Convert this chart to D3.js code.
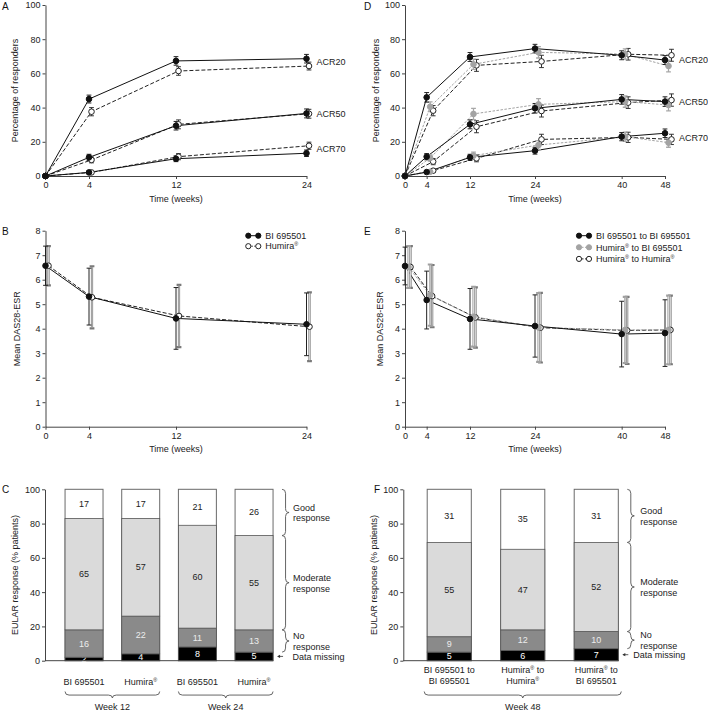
<!DOCTYPE html>
<html><head><meta charset="utf-8">
<script src="https://cdn.jsdelivr.net/npm/d3@7"></script>
<style>
body{margin:0;background:#fff}
svg{font-family:Arial,"Liberation Sans",Helvetica,sans-serif;display:block}
</style>
</head><body>
<svg id="c" width="708" height="710"></svg>
<script>
// ---------------- DATA ----------------
const weeksA = [0, 4, 12, 24];
const weeksD = [0, 4, 12, 24, 40, 48];

// Panel A: ACR responders (%), mean and error
const acr20A_BI = [0, 45.0, 67.3, 68.6];
const acr20A_BI_err = [0, 2.3, 2.5, 2.5];
const acr20A_Hum = [0, 37.6, 61.4, 64.3];
const acr20A_Hum_err = [0, 2.4, 2.5, 2.3];
const acr50A_BI = [0, 10.9, 29.4, 36.6];
const acr50A_BI_err = [0, 1.8, 2.5, 2.6];
const acr50A_Hum = [0, 9.4, 30.2, 36.4];
const acr50A_Hum_err = [0, 1.7, 2.6, 2.6];
const acr70A_BI = [0, 2.1, 10.1, 13.3];
const acr70A_BI_err = [0, 0.8, 1.7, 1.9];
const acr70A_Hum = [0, 2.1, 11.3, 17.7];
const acr70A_Hum_err = [0, 0.8, 1.8, 2.1];

// Panel D
const acr20D_BIBI = [0, 46.0, 69.6, 74.5, 70.6, 67.8];
const acr20D_BIBI_err = [0, 2.8, 2.6, 2.5, 2.6, 2.6];
const acr20D_HumBI = [0, 40.5, 65.3, 72.3, 71.3, 64.3];
const acr20D_HumBI_err = [0, 2.8, 3.0, 3.3, 3.0, 3.4];
const acr20D_HumHum = [0, 38.2, 64.7, 67.0, 71.2, 70.6];
const acr20D_HumHum_err = [0, 3.0, 3.5, 3.6, 3.4, 3.5];
const acr50D_BIBI = [0, 11.3, 30.2, 39.6, 44.8, 43.5];
const acr50D_BIBI_err = [0, 1.8, 2.6, 2.8, 2.8, 2.8];
const acr50D_HumBI = [0, 10.5, 36.3, 41.9, 43.5, 41.5];
const acr50D_HumBI_err = [0, 1.8, 3.3, 3.4, 3.3, 3.4];
const acr50D_HumHum = [0, 8.4, 28.8, 38.0, 42.9, 44.4];
const acr50D_HumHum_err = [0, 1.8, 3.5, 3.5, 3.4, 3.6];
const acr70D_BIBI = [0, 2.3, 10.9, 14.8, 23.0, 25.0];
const acr70D_BIBI_err = [0, 0.9, 1.8, 2.0, 2.4, 2.5];
const acr70D_HumBI = [0, 2.5, 11.9, 18.1, 23.0, 19.5];
const acr70D_HumBI_err = [0, 0.9, 2.1, 2.6, 2.7, 2.7];
const acr70D_HumHum = [0, 3.1, 10.3, 21.4, 22.6, 21.4];
const acr70D_HumHum_err = [0, 1.0, 2.0, 3.0, 3.0, 3.0];

// Panel B: mean DAS28-ESR with SD
const dasB_BI = [6.57, 5.31, 4.42, 4.18];
const dasB_BI_sd = [0.80, 1.16, 1.26, 1.28];
const dasB_Hum = [6.57, 5.28, 4.52, 4.08];
const dasB_Hum_sd = [0.80, 1.27, 1.27, 1.40];

// Panel E
const dasE_BIBI = [6.56, 5.17, 4.40, 4.11, 3.78, 3.82];
const dasE_BIBI_sd = [0.77, 1.18, 1.24, 1.27, 1.34, 1.36];
const dasE_HumBI = [6.52, 5.37, 4.49, 4.05, 3.95, 3.95];
const dasE_HumBI_sd = [0.85, 1.25, 1.22, 1.40, 1.35, 1.40];
const dasE_HumHum = [6.52, 5.33, 4.46, 4.04, 3.93, 3.95];
const dasE_HumHum_sd = [0.85, 1.27, 1.23, 1.42, 1.37, 1.40];

// Panel C: EULAR response (% patients)
const eularC_cats = [["BI 695501"], ["Humira®"], ["BI 695501"], ["Humira®"]];
const eularC_missing = [2, 4, 8, 5];
const eularC_no = [16, 22, 11, 13];
const eularC_moderate = [65, 57, 60, 55];
const eularC_good = [17, 17, 21, 26];
const eularC_groups = [{label: "Week 12", bars: [0, 1]}, {label: "Week 24", bars: [2, 3]}];

// Panel F
const eularF_cats = [["BI 695501 to", "BI 695501"], ["Humira® to", "Humira®"], ["Humira® to", "BI 695501"]];
const eularF_missing = [5, 6, 7];
const eularF_no = [9, 12, 10];
const eularF_moderate = [55, 47, 52];
const eularF_good = [31, 35, 31];
const eularF_groups = [{label: "Week 48", bars: [0, 1, 2]}];

const pctTicks = [0, 20, 40, 60, 80, 100];
const dasTicks = [0, 1, 2, 3, 4, 5, 6, 7, 8];
const responseLabels = [["Good", "response"], ["Moderate", "response"], ["No", "response"]];

// ---------------- DRAWING ----------------
const svg = d3.select('#c');
const FS = 9;
const AXC = '#444';

const STY = {
  black: {line: '#111', dash: null, fill: '#111', mstroke: '#111', eb: '#222', ebw: 1},
  grey: {line: '#a3a3a3', dash: '2.5,1.5', fill: '#a3a3a3', mstroke: '#a3a3a3', eb: '#a8a8a8', ebw: 1.3},
  open: {line: '#222', dash: '4,2', fill: '#fff', mstroke: '#222', eb: '#333', ebw: 1}
};

function rich(textSel, str) {
  const parts = str.split('®');
  let shifted = false;
  parts.forEach((p, i) => {
    if (p) {
      const t = textSel.append('tspan').text(p);
      if (shifted) { t.attr('dy', 3); shifted = false; }
    }
    if (i < parts.length - 1) {
      textSel.append('tspan').attr('font-size', FS * 0.6).attr('dy', -3).text('®');
      shifted = true;
    }
  });
}

function styleAxis(a) {
  a.select('.domain').attr('stroke', AXC);
  a.selectAll('.tick line').attr('stroke', AXC);
  a.selectAll('.tick text').attr('fill', '#222').attr('font-size', FS).attr('font-family', null);
  a.attr('font-family', null);
}

function letter(x, y, t) {
  svg.append('text').attr('x', x).attr('y', y).attr('font-size', 10).attr('fill', '#111').text(t);
}

function linePanel(cfg) {
  const x = d3.scaleLinear().domain([0, d3.max(cfg.weeks)]).range(cfg.xr);
  const y = d3.scaleLinear().domain(cfg.yd).range(cfg.yr);
  const g = svg.append('g');
  const ya = g.append('g').attr('transform', `translate(${cfg.xr[0]},0)`)
    .call(d3.axisLeft(y).tickValues(cfg.yTicks).tickSize(3).tickPadding(2).tickSizeOuter(0));
  const xa = g.append('g').attr('transform', `translate(0,${cfg.yr[0]})`)
    .call(d3.axisBottom(x).tickValues(cfg.weeks).tickSize(3).tickPadding(3).tickSizeOuter(0));
  styleAxis(ya); styleAxis(xa);
  g.append('text').attr('x', (cfg.xr[0] + cfg.xr[1]) / 2).attr('y', cfg.yr[0] + 25.5)
    .attr('text-anchor', 'middle').attr('font-size', FS).attr('fill', '#222').text('Time (weeks)');
  g.append('text').attr('transform', `translate(${cfg.yTitleX},${(cfg.yr[0] + cfg.yr[1]) / 2}) rotate(-90)`)
    .attr('text-anchor', 'middle').attr('font-size', FS).attr('fill', '#222').text(cfg.yTitle);

  const px = (s, i) => x(cfg.weeks[i]) + ((cfg.weeks[i] === 0 && cfg.zeroNoOffset) ? 0 : s.dx);
  const order = cfg.series.slice().reverse();
  order.forEach(s => {
    const st = STY[s.style];
    g.append('path').datum(s.v)
      .attr('d', d3.line().x((d, i) => px(s, i)).y(d => y(d)))
      .attr('fill', 'none').attr('stroke', st.line).attr('stroke-width', 1)
      .attr('stroke-dasharray', st.dash);
  });
  order.forEach(s => {
    const st = STY[s.style];
    s.v.forEach((v, i) => {
      const e = s.e[i];
      if (!e) return;
      const cx = px(s, i), y1 = y(v + e), y2 = y(v - e);
      const path = `M${cx},${y1}V${y2}M${cx - 2.4},${y1}H${cx + 2.4}M${cx - 2.4},${y2}H${cx + 2.4}`;
      if (cfg.hollowOpen && s.style !== 'black') {
        g.append('path').attr('d', path).attr('stroke', s.style === 'open' ? '#7a7a7a' : '#a0a0a0').attr('stroke-width', 2.2).attr('fill', 'none');
        g.append('path').attr('d', `M${cx},${y1 + 0.8}V${y2 - 0.8}`).attr('stroke', '#e6e6e6').attr('stroke-width', 0.8);
      } else {
        g.append('path').attr('d', path).attr('stroke', st.eb).attr('stroke-width', st.ebw).attr('fill', 'none');
      }
    });
  });
  order.forEach(s => {
    const st = STY[s.style];
    g.selectAll(null).data(s.v).join('circle')
      .attr('cx', (d, i) => px(s, i)).attr('cy', d => y(d)).attr('r', 2.8)
      .attr('fill', st.fill).attr('stroke', st.mstroke).attr('stroke-width', 1);
  });
  return {x, y, g};
}

function acrLabels(p, groups, weeks, dx) {
  const last = weeks.length - 1;
  groups.forEach(gr => {
    const m = d3.mean(gr.series, s => s[last]);
    p.g.append('text').attr('x', p.x(weeks[last]) + dx).attr('y', p.y(m) + 3)
      .attr('font-size', FS).attr('fill', '#222').text(gr.label);
  });
}

function legend(items, mx, ty, dy) {
  items.forEach((it, k) => {
    const st = STY[it.style];
    const yy = ty + k * dy;
    svg.append('line').attr('x1', mx).attr('x2', mx + 10).attr('y1', yy).attr('y2', yy)
      .attr('stroke', st.line).attr('stroke-dasharray', st.dash ? '1.5,1.5' : null);
    [mx, mx + 10].forEach(cx => svg.append('circle').attr('cx', cx).attr('cy', yy).attr('r', 2.6)
      .attr('fill', st.fill).attr('stroke', st.mstroke));
    rich(svg.append('text').attr('x', mx + 17).attr('y', yy + 3.2).attr('font-size', FS).attr('fill', '#222'), it.label);
  });
}

function hBrace(g, xa, xb, yt, h) {
  const mid = (xa + xb) / 2, ym = yt + h * 0.55, q = 4;
  g.append('path').attr('d',
    `M${xa},${yt}Q${xa},${ym} ${xa + q},${ym}L${mid - q},${ym}Q${mid},${ym} ${mid},${yt + h}` +
    `Q${mid},${ym} ${mid + q},${ym}L${xb - q},${ym}Q${xb},${ym} ${xb},${yt}`)
    .attr('fill', 'none').attr('stroke', '#555').attr('stroke-width', 0.9);
}
function vBrace(g, bx, ya, yb, w) {
  const mid = (ya + yb) / 2, xm = bx + w * 0.5, q = Math.min(4, (yb - ya) / 4);
  g.append('path').attr('d',
    `M${bx},${ya}Q${xm},${ya} ${xm},${ya + q}L${xm},${mid - q}Q${xm},${mid} ${bx + w},${mid}` +
    `Q${xm},${mid} ${xm},${mid + q}L${xm},${yb - q}Q${xm},${yb} ${bx},${yb}`)
    .attr('fill', 'none').attr('stroke', '#555').attr('stroke-width', 0.9);
}

function barPanel(cfg) {
  const n = cfg.cats.length;
  const y = d3.scaleLinear().domain([0, 100]).range([660.7, 489.3]);
  const xb = d3.scaleBand().domain(d3.range(n)).range(cfg.range).paddingInner(cfg.pad).paddingOuter(cfg.pad / 2);
  const g = svg.append('g');
  const ya = g.append('g').attr('transform', `translate(${cfg.axisX},0)`)
    .call(d3.axisLeft(y).tickValues(pctTicks).tickSize(3).tickPadding(2).tickSizeOuter(0));
  styleAxis(ya);
  g.append('text').attr('transform', `translate(${cfg.yTitleX},${(y(0) + y(100)) / 2}) rotate(-90)`)
    .attr('text-anchor', 'middle').attr('font-size', FS).attr('fill', '#222').text('EULAR response (% patients)');

  const segs = [
    {vals: cfg.missing, fill: '#000', tc: '#fff'},
    {vals: cfg.no, fill: '#8a8a8a', tc: '#ececec'},
    {vals: cfg.moderate, fill: '#dadada', tc: '#222'}
  ];
  const lastRight = xb(n - 1) + xb.bandwidth();
  const cums = [];
  for (let i = 0; i < n; i++) {
    const x0 = xb(i), bw = xb.bandwidth();
    g.append('rect').attr('x', x0).attr('y', y(100)).attr('width', bw).attr('height', y(0) - y(100))
      .attr('fill', '#fff').attr('stroke', '#6a6a6a').attr('stroke-width', 1);
    let c = 0;
    const cum = [];
    segs.forEach(sg => {
      const v = sg.vals[i];
      g.append('rect').attr('x', x0).attr('y', y(c + v)).attr('width', bw).attr('height', y(c) - y(c + v))
        .attr('fill', sg.fill).attr('stroke', '#555').attr('stroke-width', 0.8);
      g.append('text').attr('x', x0 + bw / 2).attr('y', y(c + v / 2) + 3).attr('text-anchor', 'middle')
        .attr('font-size', FS).attr('fill', sg.tc).text(v);
      c += v; cum.push(c);
    });
    g.append('text').attr('x', x0 + bw / 2).attr('y', y((c + 100) / 2) + 3).attr('text-anchor', 'middle')
      .attr('font-size', FS).attr('fill', '#222').text(cfg.good[i]);
    cums.push(cum);
    const t = g.append('text').attr('text-anchor', 'middle').attr('font-size', FS).attr('fill', '#222');
    cfg.cats[i].forEach((line, k) => {
      const ts = t.append('tspan').attr('x', x0 + bw / 2).attr('y', cfg.catY + k * 10.8);
      rich(ts, line);
    });
  }
  g.append('line').attr('x1', cfg.axisX).attr('x2', lastRight).attr('y1', y(0)).attr('y2', y(0)).attr('stroke', AXC);
  cfg.groups.forEach(gr => {
    const xa = xb(gr.bars[0]) - cfg.braceExt, xe = xb(gr.bars[gr.bars.length - 1]) + xb.bandwidth() + cfg.braceExt;
    hBrace(g, xa, xe, 691.5, 6.5);
    g.append('text').attr('x', (xa + xe) / 2).attr('y', 709.5).attr('text-anchor', 'middle')
      .attr('font-size', FS).attr('fill', '#222').text(gr.label);
  });
  const lc = cums[n - 1];
  const spans = [[100, lc[2]], [lc[2], lc[1]], [lc[1], lc[0]]];
  const bx = lastRight + cfg.braceDx;
  spans.forEach((sp, k) => {
    vBrace(g, bx, y(sp[0]), y(sp[1]), 7);
    const mid = (y(sp[0]) + y(sp[1])) / 2;
    const t = g.append('text').attr('font-size', FS).attr('fill', '#222');
    responseLabels[k].forEach((line, j) => t.append('tspan').attr('x', bx + cfg.textDx).attr('y', mid - 1.8 + j * 10.7).text(line));
  });
  const ym = y(lc[0] / 2);
  g.append('line').attr('x1', bx - 4).attr('x2', bx + 1).attr('y1', ym).attr('y2', ym).attr('stroke', '#333').attr('stroke-width', 0.8);
  g.append('path').attr('d', `M${bx - 5},${ym}L${bx - 2},${ym - 1.6}L${bx - 2},${ym + 1.6}Z`).attr('fill', '#333');
  g.append('text').attr('x', bx + cfg.dmDx).attr('y', ym + 3.2).attr('font-size', FS).attr('fill', '#222').text('Data missing');
}

// ----- Panel A -----
const pA = linePanel({
  weeks: weeksA, xr: [45.5, 306.5], yd: [0, 100], yr: [176, 5], yTicks: pctTicks,
  yTitle: 'Percentage of responders', yTitleX: 18, zeroNoOffset: true,
  series: [
    {v: acr20A_BI, e: acr20A_BI_err, style: 'black', dx: 0},
    {v: acr20A_Hum, e: acr20A_Hum_err, style: 'open', dx: 2.5},
    {v: acr50A_BI, e: acr50A_BI_err, style: 'black', dx: 0},
    {v: acr50A_Hum, e: acr50A_Hum_err, style: 'open', dx: 2.5},
    {v: acr70A_BI, e: acr70A_BI_err, style: 'black', dx: 0},
    {v: acr70A_Hum, e: acr70A_Hum_err, style: 'open', dx: 2.5}
  ]
});
acrLabels(pA, [
  {label: 'ACR20', series: [acr20A_BI, acr20A_Hum]},
  {label: 'ACR50', series: [acr50A_BI, acr50A_Hum]},
  {label: 'ACR70', series: [acr70A_BI, acr70A_Hum]}
], weeksA, 10);
letter(2, 9.5, 'A');

// ----- Panel D -----
const pD = linePanel({
  weeks: weeksD, xr: [405, 665], yd: [0, 100], yr: [176, 5], yTicks: pctTicks,
  yTitle: 'Percentage of responders', yTitleX: 378.5, zeroNoOffset: true,
  series: [
    {v: acr20D_BIBI, e: acr20D_BIBI_err, style: 'black', dx: 0},
    {v: acr20D_HumBI, e: acr20D_HumBI_err, style: 'grey', dx: 3.5},
    {v: acr20D_HumHum, e: acr20D_HumHum_err, style: 'open', dx: 6.5},
    {v: acr50D_BIBI, e: acr50D_BIBI_err, style: 'black', dx: 0},
    {v: acr50D_HumBI, e: acr50D_HumBI_err, style: 'grey', dx: 3.5},
    {v: acr50D_HumHum, e: acr50D_HumHum_err, style: 'open', dx: 6.5},
    {v: acr70D_BIBI, e: acr70D_BIBI_err, style: 'black', dx: 0},
    {v: acr70D_HumBI, e: acr70D_HumBI_err, style: 'grey', dx: 3.5},
    {v: acr70D_HumHum, e: acr70D_HumHum_err, style: 'open', dx: 6.5}
  ]
});
acrLabels(pD, [
  {label: 'ACR20', series: [acr20D_BIBI, acr20D_HumBI, acr20D_HumHum]},
  {label: 'ACR50', series: [acr50D_BIBI, acr50D_HumBI, acr50D_HumHum]},
  {label: 'ACR70', series: [acr70D_BIBI, acr70D_HumBI, acr70D_HumHum]}
], weeksD, 14);
letter(364, 9.5, 'D');

// ----- Panel B -----
linePanel({
  weeks: weeksA, xr: [45.5, 306.5], yd: [0, 8], yr: [426.7, 230.7], yTicks: dasTicks,
  yTitle: 'Mean DAS28-ESR', yTitleX: 19.5, hollowOpen: true,
  series: [
    {v: dasB_BI, e: dasB_BI_sd, style: 'black', dx: 0},
    {v: dasB_Hum, e: dasB_Hum_sd, style: 'open', dx: 3}
  ]
});
legend([{style: 'black', label: 'BI 695501'}, {style: 'open', label: 'Humira®'}], 248.3, 235.7, 10.5);
letter(2, 235, 'B');

// ----- Panel E -----
linePanel({
  weeks: weeksD, xr: [405, 665], yd: [0, 8], yr: [426.7, 230.7], yTicks: dasTicks,
  yTitle: 'Mean DAS28-ESR', yTitleX: 383, hollowOpen: true,
  series: [
    {v: dasE_BIBI, e: dasE_BIBI_sd, style: 'black', dx: 0},
    {v: dasE_HumBI, e: dasE_HumBI_sd, style: 'grey', dx: 3.5},
    {v: dasE_HumHum, e: dasE_HumHum_sd, style: 'open', dx: 5.5}
  ]
});
legend([{style: 'black', label: 'BI 695501 to BI 695501'}, {style: 'grey', label: 'Humira® to BI 695501'},
        {style: 'open', label: 'Humira® to Humira®'}], 579, 235.7, 11.6);
letter(364, 235, 'E');

// ----- Panel C -----
barPanel({
  cats: eularC_cats, missing: eularC_missing, no: eularC_no, moderate: eularC_moderate, good: eularC_good,
  groups: eularC_groups, range: [55.7, 282.4], pad: 0.33, axisX: 45, yTitleX: 18, catY: 685,
  braceExt: 0, braceDx: 9, textDx: 11, dmDx: 10.5
});
letter(2, 493, 'C');

// ----- Panel F -----
barPanel({
  cats: eularF_cats, missing: eularF_missing, no: eularF_no, moderate: eularF_moderate, good: eularF_good,
  groups: eularF_groups, range: [412.5, 633], pad: 0.4, axisX: 403.3, yTitleX: 377, catY: 673,
  braceExt: 3, braceDx: 9, textDx: 13, dmDx: 6
});
letter(374, 493, 'F');
</script>
</body></html>
